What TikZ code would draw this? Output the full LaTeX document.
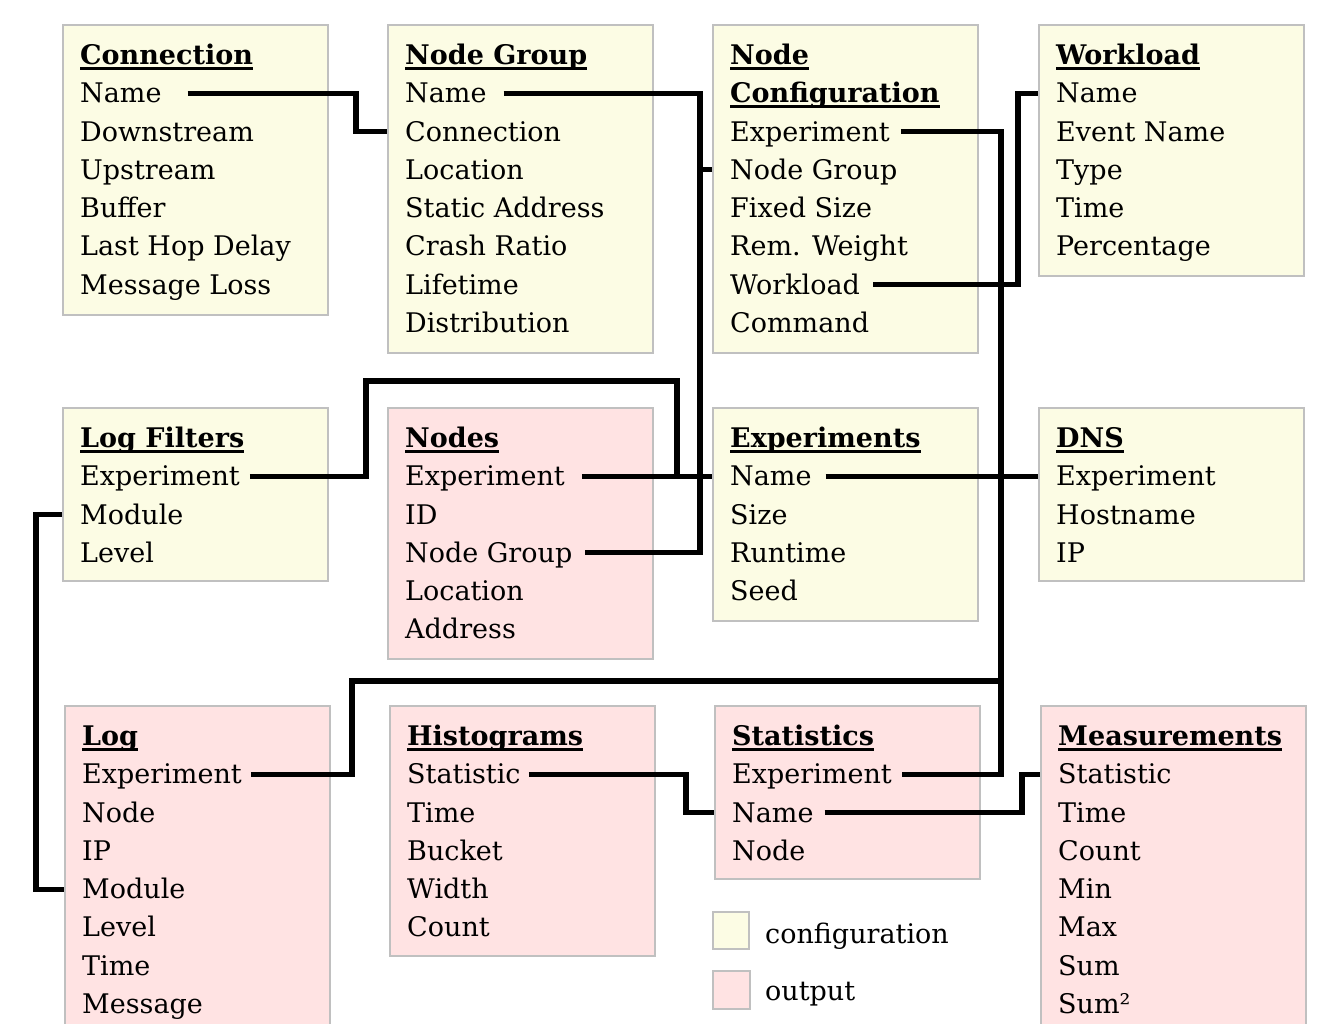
\documentclass[tikz,border=0pt]{standalone}
\usepackage{fontspec}
\setmainfont{DejaVu Serif}
\definecolor{cfgfill}{RGB}{252,252,228}
\definecolor{outfill}{RGB}{255,227,227}
\definecolor{boxgray}{RGB}{192,192,192}
\newcommand\fldfont{\fontsize{27}{30}\selectfont}
\tikzset{
  tbox/.style={draw=boxgray, line width=2pt, anchor=north west, minimum width=265pt, inner sep=0pt},
  cfgbox/.style={tbox, fill=cfgfill},
  outbox/.style={tbox, fill=outfill},
  fld/.style={anchor=base west, inner sep=0pt, text height=19pt, text depth=0pt, font=\fldfont},
  ttl/.style={fld, font=\fldfont\bfseries},
  ul/.style={line width=2.8pt},
  conn/.style={line width=5.2pt, line join=miter},
}
\newcommand\mktable[6]{%
  \node[#2, minimum height=#5pt] (#1) at (#3,#4) {};
  \node[ttl] (#1-t) at (#3+18,#4+40.4) {#6};
  \draw[ul] ([yshift=-3.8pt]#1-t.base west) -- ([yshift=-3.8pt]#1-t.base east);
}
\begin{document}
\begin{tikzpicture}[x=1pt,y=-1pt]
\useasboundingbox (0,0) rectangle (1327,1023);
% ---------- row 1
\mktable{con}{cfgbox}{62}{24}{290}{Connection}
\foreach \f [count=\i] in {Name,Downstream,Upstream,Buffer,Last Hop Delay,Message Loss}
  \node[fld] (con-\i) at (80,64.4+38.3*\i) {\f};
\mktable{ng}{cfgbox}{387}{24}{328}{Node Group}
\foreach \f [count=\i] in {Name,Connection,Location,Static Address,Crash Ratio,Lifetime,Distribution}
  \node[fld] (ng-\i) at (405,64.4+38.3*\i) {\f};
\mktable{nc}{cfgbox}{712}{24}{328}{Node}
\node[ttl] (nc-t2) at (730,102.7) {Configuration};
\draw[ul] ([yshift=-3.8pt]nc-t2.base west) -- ([yshift=-3.8pt]nc-t2.base east);
\foreach \f [count=\i from 2] in {Experiment,Node Group,Fixed Size,Rem. Weight,Workload,Command}
  \node[fld] (nc-\i) at (730,64.4+38.3*\i) {\f};
\mktable{wl}{cfgbox}{1038}{24}{251}{Workload}
\foreach \f [count=\i] in {Name,Event Name,Type,Time,Percentage}
  \node[fld] (wl-\i) at (1056,64.4+38.3*\i) {\f};
% ---------- row 2
\mktable{lf}{cfgbox}{62}{407}{173}{Log Filters}
\foreach \f [count=\i] in {Experiment,Module,Level}
  \node[fld] (lf-\i) at (80,447.4+38.3*\i) {\f};
\mktable{nodes}{outbox}{387}{407}{251}{Nodes}
\foreach \f [count=\i] in {Experiment,ID,Node Group,Location,Address}
  \node[fld] (nodes-\i) at (405,447.4+38.3*\i) {\f};
\mktable{exp}{cfgbox}{712}{407}{213}{Experiments}
\foreach \f [count=\i] in {Name,Size,Runtime,Seed}
  \node[fld] (exp-\i) at (730,447.4+38.3*\i) {\f};
\mktable{dns}{cfgbox}{1038}{407}{173}{DNS}
\foreach \f [count=\i] in {Experiment,Hostname,IP}
  \node[fld] (dns-\i) at (1056,447.4+38.3*\i) {\f};
% ---------- row 3
\mktable{log}{outbox}{64}{705}{340}{Log}
\foreach \f [count=\i] in {Experiment,Node,IP,Module,Level,Time,Message}
  \node[fld] (log-\i) at (82,745.4+38.3*\i) {\f};
\mktable{hi}{outbox}{389}{705}{250}{Histograms}
\foreach \f [count=\i] in {Statistic,Time,Bucket,Width,Count}
  \node[fld] (hi-\i) at (407,745.4+38.3*\i) {\f};
\mktable{st}{outbox}{714}{705}{173}{Statistics}
\foreach \f [count=\i] in {Experiment,Name,Node}
  \node[fld] (st-\i) at (732,745.4+38.3*\i) {\f};
\mktable{me}{outbox}{1040}{705}{340}{Measurements}
\foreach \f [count=\i] in {Statistic,Time,Count,Min,Max,Sum,Sum²}
  \node[fld] (me-\i) at (1058,745.4+38.3*\i) {\f};
% ---------- legend
\node[cfgbox, minimum width=36pt, minimum height=37pt] (lg1) at (712,911) {};
\node[fld] (lg1-t) at (765,943) {configuration};
\node[outbox, minimum width=37pt, minimum height=38pt] (lg2) at (712,970) {};
\node[fld] (lg2-t) at (765,1000) {output};
% ---------- routing columns / rows
\coordinate (cA) at (356,0);
\coordinate (cB) at (700,0);
\coordinate (cC) at (366,0);
\coordinate (cD) at (677,0);
\coordinate (rA) at (0,381);
\coordinate (cE) at (1001,0);
\coordinate (cF) at (352,0);
\coordinate (rB) at (0,681);
\coordinate (cG) at (1018,0);
\coordinate (cH) at (36,0);
\coordinate (cI) at (686,0);
\coordinate (cJ) at (1022,0);
% ---------- connectors
\draw[conn] ([xshift=26pt]con-1.east) -| (cA |- ng-2.east) -- (ng.west |- ng-2.east);
\draw[conn] ([xshift=17pt]ng-1.east) -| (cB |- nodes-3.east) -- ([xshift=12pt]nodes-3.east);
\draw[conn] (cB |- nc-3.east) -- (nc.west |- nc-3.east);
\draw[conn] ([xshift=17pt]nodes-1.east) -- (exp.west |- nodes-1.east);
\draw[conn] ([xshift=10pt]lf-1.east) -| (cC |- rA) -| (cD |- nodes-1.east);
\draw[conn] ([xshift=14pt]exp-1.east) -- (dns.west |- exp-1.east);
\draw[conn] ([xshift=11pt]nc-2.east) -| (cE |- st-1.east) -- ([xshift=10pt]st-1.east);
\draw[conn] ([xshift=9pt]log-1.east) -| (cF |- rB) -- (cE |- rB);
\draw[conn] ([xshift=13pt]nc-6.east) -| (cG |- wl-1.east) -- (wl.west |- wl-1.east);
\draw[conn] (lf.west |- lf-2.east) -| (cH |- log-4.east) -- (log.west |- log-4.east);
\draw[conn] ([xshift=8pt]hi-1.east) -| (cI |- st-2.east) -- (st.west |- st-2.east);
\draw[conn] ([xshift=11pt]st-2.east) -| (cJ |- me-1.east) -- (me.west |- me-1.east);
\end{tikzpicture}
\end{document}
